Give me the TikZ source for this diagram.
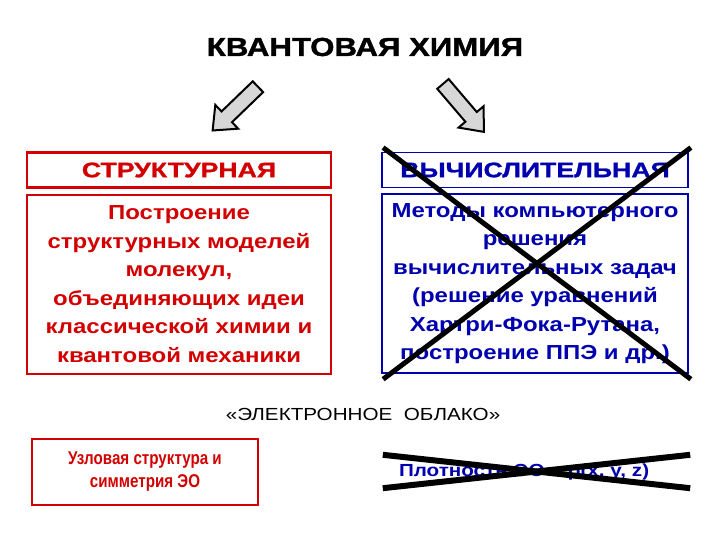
\documentclass[tikz,border=0pt]{standalone}
\usepackage{fontspec}
\setmainfont{Liberation Sans}
\newfontfamily\narrowfont[FakeStretch=0.82]{Liberation Sans}
\newfontfamily\widefont[FakeStretch=1.18]{Liberation Sans}
\newfontfamily\heavyfont[FakeStretch=1.27,FakeBold=1.2]{Liberation Sans}
\newfontfamily\titlefont[FakeStretch=1.2,FakeBold=1.4]{Liberation Sans}
\usetikzlibrary{positioning,shapes.arrows}
\definecolor{chemred}{RGB}{210,0,0}
\definecolor{chemblue}{RGB}{0,0,175}
\definecolor{arrowgray}{RGB}{215,215,215}
\tikzset{
    redhead/.style={
           rectangle,
           draw=chemred, line width=2.2pt,
           text=chemred,
           minimum width=304pt, minimum height=35pt,
           font=\heavyfont\bfseries\fontsize{21}{24}\selectfont,
           },
}
\tikzset{
    redbody/.style={
           redhead,
           minimum height=179pt,
           align=center,
           font=\widefont\bfseries\fontsize{20.3}{28.5}\selectfont,
           },
}
\tikzset{
    bluehead/.style={
           redhead,
           draw=chemblue, line width=1.8pt,
           text=chemblue,
           minimum width=306pt,
           },
}
\tikzset{
    bluebody/.style={
           redbody,
           draw=chemblue, line width=1.8pt,
           text=chemblue,
           minimum width=306pt,
           },
}
\tikzset{
    crossline/.style={
           draw=black, line width=5pt,
           },
}
\tikzset{
    bigarrow/.style={
           single arrow,
           draw=black, line width=2pt,
           fill=arrowgray,
           inner sep=6.5pt,
           single arrow head extend=9pt,
           single arrow tip angle=80,
           minimum height=63pt,
           },
}

\begin{document}
\begin{tikzpicture}[x=1pt,y=-1pt]
\useasboundingbox (0,0) rectangle (720,540);
\node[font=\titlefont\bfseries\fontsize{26}{30}\selectfont](title) at (365,47){КВАНТОВАЯ ХИМИЯ};
\node[bigarrow,rotate=224](leftarrow) at (238.5,105.5){};
\node[bigarrow,rotate=-49.5](rightarrow) at (460.5,104.5){};
% structural
\node[redhead](struct) at (179,170){СТРУКТУРНАЯ};
\node[redbody,below=5pt of struct](structtext){Построение\\структурных моделей\\молекул,\\объединяющих идеи\\классической химии и\\квантовой механики};
% computational (crossed out)
\node[bluehead,right=49pt of struct](calc){ВЫЧИСЛИТЕЛЬНАЯ};
\node[bluebody,below=5pt of calc](calctext){Методы компьютерного\\решения\\вычислительных задач\\(решение уравнений\\Хартри-Фока-Рутана,\\построение ППЭ и др.)};
\draw[crossline] ([shift={(2pt,4pt)}]calc.north west) -- ([shift={(2pt,-5pt)}]calctext.south east);
\draw[crossline] ([shift={(2pt,4pt)}]calc.north east) -- ([shift={(2pt,-5pt)}]calctext.south west);
% electron cloud
\node[font=\widefont\fontsize{17.5}{22}\selectfont](cloud) at (363,414){«ЭЛЕКТРОННОЕ\ \ ОБЛАКО»};
\node[draw=chemred,line width=2.2pt,text=chemred,minimum width=226pt,minimum height=66pt,align=center,
      font=\narrowfont\bfseries\fontsize{18.5}{23}\selectfont](nodal) at (145,472){Узловая структура и\\симметрия ЭО};
\node[text=chemblue,minimum width=307pt,minimum height=33pt,text width=275pt,inner xsep=16pt,align=left,
      font=\widefont\bfseries\fontsize{17.5}{22}\selectfont](density) at (536.5,471.5){Плотность ЭО – ρ(x, y, z)};
\draw[crossline,line width=6pt] (density.north west) -- (density.south east);
\draw[crossline,line width=6pt] (density.south west) -- (density.north east);
\end{tikzpicture}
\end{document}
